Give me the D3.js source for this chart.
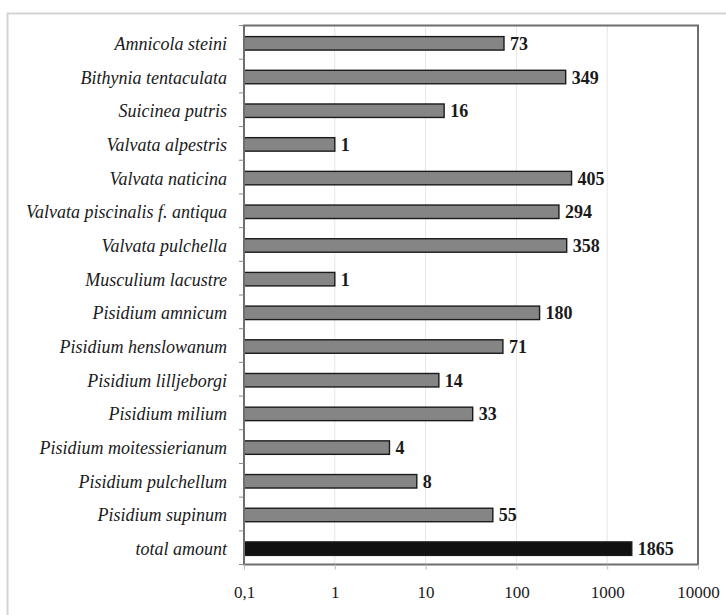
<!DOCTYPE html>
<html>
<head>
<meta charset="utf-8">
<script src="https://cdn.jsdelivr.net/npm/d3@7/dist/d3.min.js"></script>
<style>
  html, body { margin: 0; padding: 0; background: #fff; }
  svg { display: block; }
  text { font-family: "Liberation Serif", "Times New Roman", serif; fill: #1a1a1a; }
</style>
</head>
<body>
<svg id="chart" width="726" height="615"></svg>
<script>
// Species and number of specimens
const species = [
  "Amnicola steini",
  "Bithynia tentaculata",
  "Suicinea putris",
  "Valvata alpestris",
  "Valvata naticina",
  "Valvata piscinalis f. antiqua",
  "Valvata pulchella",
  "Musculium lacustre",
  "Pisidium amnicum",
  "Pisidium henslowanum",
  "Pisidium lilljeborgi",
  "Pisidium milium",
  "Pisidium moitessierianum",
  "Pisidium pulchellum",
  "Pisidium supinum",
  "total amount"
];
const counts = [73, 349, 16, 1, 405, 294, 358, 1, 180, 71, 14, 33, 4, 8, 55, 1865];
const tickValues = [0.1, 1, 10, 100, 1000, 10000];
const tickLabels = ["0,1", "1", "10", "100", "1000", "10000"];

const svg = d3.select("#chart");
const W = 726, H = 615;
const plot = { left: 244, top: 25.5, right: 698, bottom: 564.5 };
const serif = "'Liberation Serif', 'Times New Roman', serif";

// outer frame
svg.append("rect")
  .attr("x", 7.5).attr("y", 13.5)
  .attr("width", W + 10).attr("height", H + 10)
  .attr("fill", "none").attr("stroke", "#d4d4d4").attr("stroke-width", 2);

const x = d3.scaleLog().domain([0.1, 10000]).range([plot.left, plot.right]);
const y = d3.scaleBand().domain(species).range([plot.top, plot.bottom])
  .paddingInner(0.6).paddingOuter(0.3);

// vertical gridlines
svg.append("g")
  .selectAll("line")
  .data(tickValues.slice(1, -1))
  .join("line")
  .attr("x1", d => x(d)).attr("x2", d => x(d))
  .attr("y1", plot.top).attr("y2", plot.bottom)
  .attr("stroke", "#e6e6e6").attr("stroke-width", 1);

// bars
svg.append("g")
  .selectAll("rect")
  .data(species)
  .join("rect")
  .attr("x", x(0.1))
  .attr("y", d => y(d) + 1)
  .attr("width", (d, i) => x(counts[i]) - x(0.1))
  .attr("height", y.bandwidth())
  .attr("fill", (d, i) => i === species.length - 1 ? "#111" : "#858585")
  .attr("stroke", "#1a1a1a")
  .attr("stroke-width", 1.4);

// value labels
svg.append("g")
  .selectAll("text")
  .data(species)
  .join("text")
  .attr("x", (d, i) => x(counts[i]) + 6)
  .attr("y", d => y(d) + 1 + y.bandwidth() / 2)
  .attr("dy", "0.36em")
  .attr("font-family", serif)
  .attr("font-size", 18)
  .attr("font-weight", "bold")
  .text((d, i) => counts[i]);

// plot border
svg.append("rect")
  .attr("x", plot.left).attr("y", plot.top)
  .attr("width", plot.right - plot.left).attr("height", plot.bottom - plot.top)
  .attr("fill", "none").attr("stroke", "#6e6e6e").attr("stroke-width", 2);

// left axis: category labels, ticks at band boundaries
const yAxis = svg.append("g");
const boundaries = d3.range(species.length + 1).map(i => plot.top + i * (plot.bottom - plot.top) / species.length);
yAxis.selectAll("line")
  .data(boundaries)
  .join("line")
  .attr("x1", plot.left - 5).attr("x2", plot.left)
  .attr("y1", d => d).attr("y2", d => d)
  .attr("stroke", "#8a8a8a").attr("stroke-width", 1);
yAxis.selectAll("text")
  .data(species)
  .join("text")
  .attr("x", 227)
  .attr("y", d => y(d) + 1 + y.bandwidth() / 2)
  .attr("dy", "0.36em")
  .attr("text-anchor", "end")
  .attr("font-family", serif)
  .attr("font-size", 18)
  .attr("font-style", "italic")
  .text(d => d);

// bottom axis
const xAxis = d3.axisBottom(x)
  .tickValues(tickValues)
  .tickFormat((d, i) => tickLabels[i])
  .tickSize(5)
  .tickPadding(16);
const gx = svg.append("g")
  .attr("transform", `translate(0,${plot.bottom})`)
  .call(xAxis);
gx.select(".domain").remove();
gx.selectAll(".tick line").attr("stroke", "#bdbdbd");
gx.selectAll(".tick text")
  .attr("font-size", 17)
  .attr("font-family", serif)
  .attr("fill", "#1a1a1a");
</script>
</body>
</html>
